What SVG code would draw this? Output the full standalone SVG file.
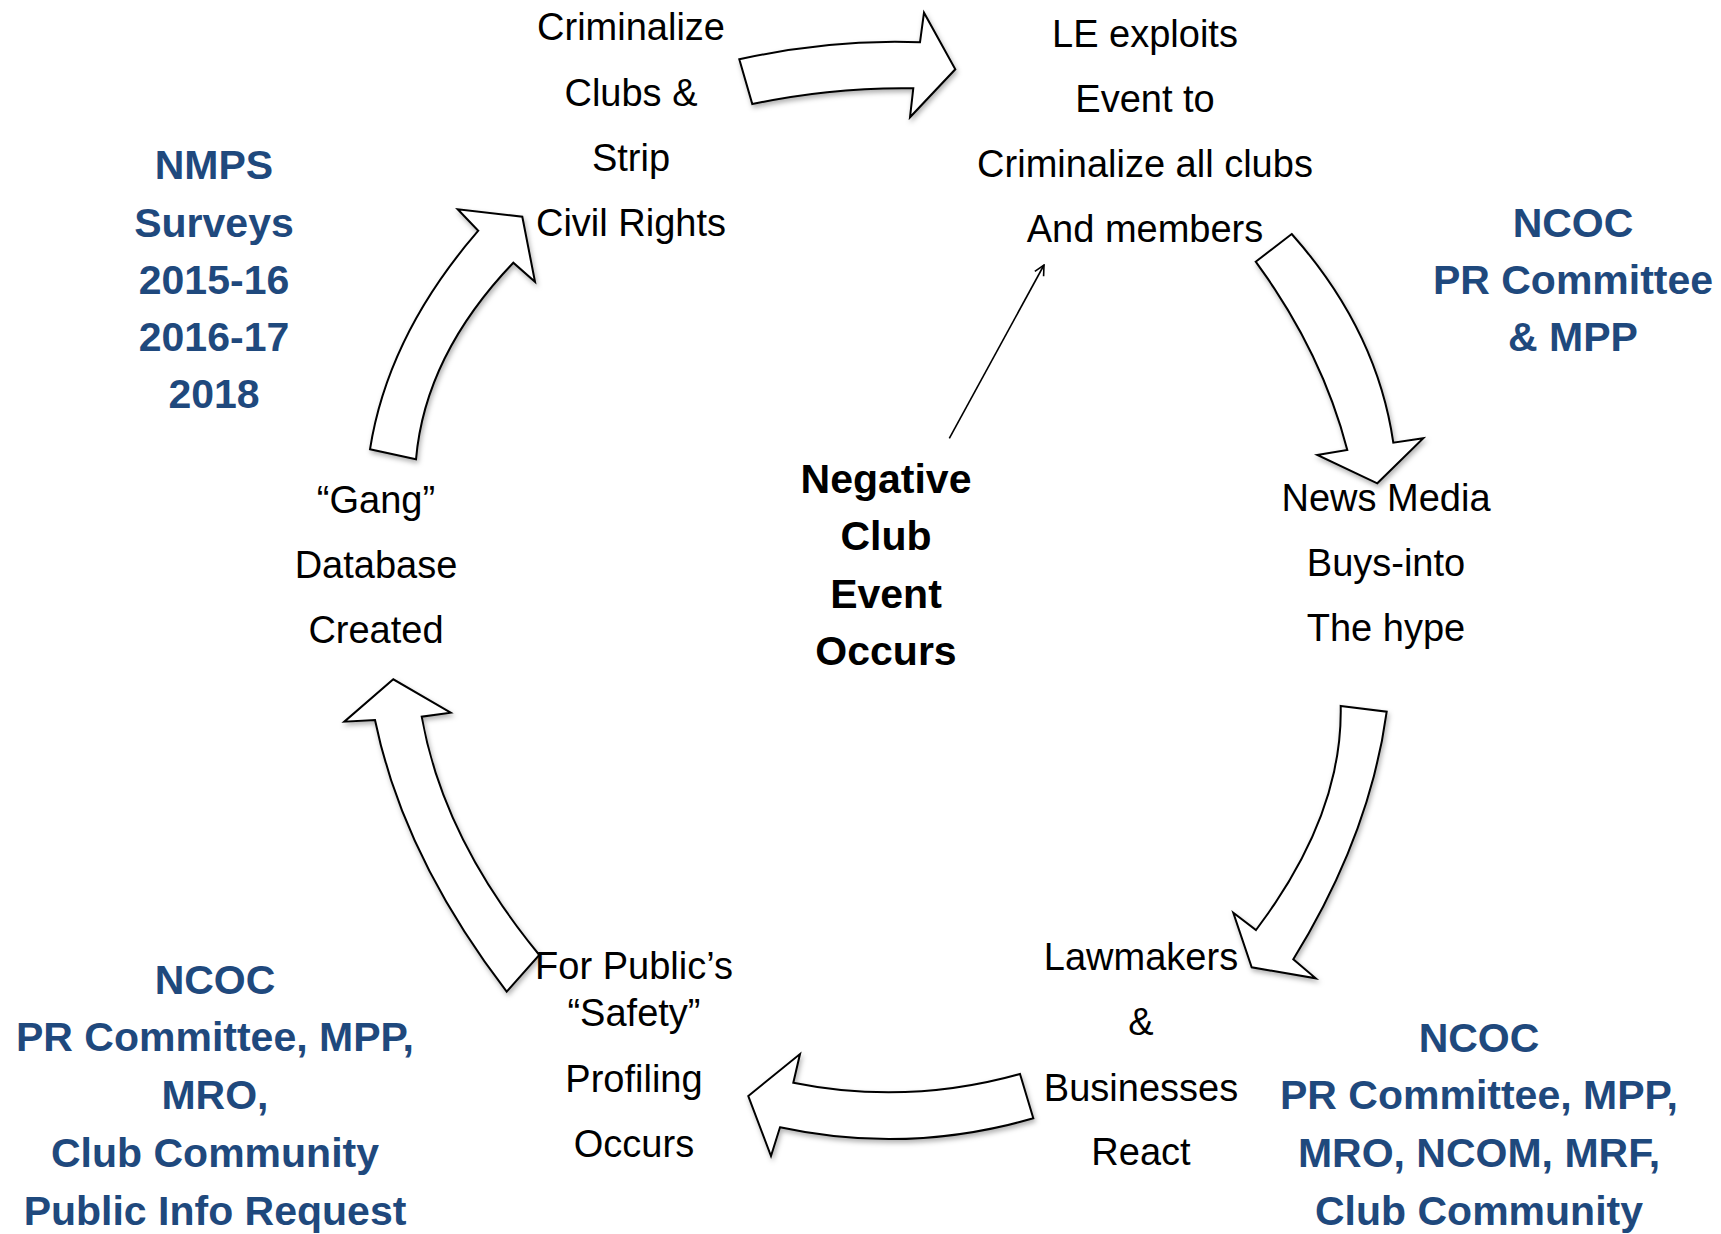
<svg xmlns="http://www.w3.org/2000/svg" width="1721" height="1234" viewBox="0 0 1721 1234">
<style>
  .lbl { font-family: "Liberation Sans", Arial, sans-serif; font-size: 38px; fill: #000; text-anchor: middle; }
  .ctr { font-family: "Liberation Sans", Arial, sans-serif; font-size: 41px; font-weight: bold; fill: #000; text-anchor: middle; }
  .blue { font-family: "Liberation Sans", Arial, sans-serif; font-size: 41px; font-weight: bold; fill: #1F497D; text-anchor: middle; }
  .blk { fill: #fff; stroke: #000; stroke-width: 2; stroke-linejoin: miter; filter: url(#sh); }
  .thin { fill: none; stroke: #000; stroke-width: 1.6; }
</style>
<defs>
  <filter id="sh" x="-20%" y="-20%" width="140%" height="140%">
    <feDropShadow dx="1.5" dy="3" stdDeviation="2.5" flood-color="#000" flood-opacity="0.3"/>
  </filter>
  <marker id="open" viewBox="0 0 12 12" refX="11" refY="6" markerWidth="12" markerHeight="12" markerUnits="userSpaceOnUse" orient="auto">
    <path d="M1,1 L11,6 L1,11" fill="none" stroke="#000" stroke-width="1.6"/>
  </marker>
</defs>
<rect width="1721" height="1234" fill="#fff"/>

<g id="connectors">
  <path id="arrow-top" class="blk" d="M739.3,59.3 Q830,39 920,42.3 L924,12.7 L955.3,69.3 L910,117.3 L913.3,88.3 Q833,87 752.3,104 Z"/>
  <path id="arrow-topright" class="blk" d="M1255.7,261.7 L1291.7,234 Q1377,330 1393.3,442.7 L1423.3,438.3 L1377.3,483.3 L1317.3,455 L1347.3,450 Q1322,352 1255.7,261.7 Z"/>
  <path id="arrow-right" class="blk" d="M1340.7,706 L1386.7,711.7 Q1370,835 1293.3,959.3 L1315.7,978.3 L1251.7,967.3 L1233.3,912.7 L1256,930 Q1343,815 1340.7,706 Z"/>
  <path id="arrow-bottom" class="blk" d="M1020,1074 L1033.3,1118.3 Q906.7,1154.8 780,1127.3 L771,1156 L748.3,1096 L800,1054 L793.3,1082.7 Q906.7,1105.7 1020,1074 Z"/>
  <path id="arrow-left" class="blk" d="M506.7,991.7 L539.3,955 Q443,838 421.7,716.7 L450.7,712.7 L393.3,679.3 L344.3,721.7 L375,720 Q403,856 506.7,991.7 Z"/>
  <path id="arrow-topleft" class="blk" d="M370,449.3 L416,459.3 Q425,355 513.3,262.7 L535,281.7 L522.3,216.7 L457.7,209.3 L478.3,230.7 Q388,335 370,449.3 Z"/>
  <line id="arrow-event" class="thin" x1="949.3" y1="438.3" x2="1044" y2="265" marker-end="url(#open)"/>
</g>

<g id="node-criminalize">
  <text class="lbl" x="631" y="40">Criminalize</text>
  <text class="lbl" x="631" y="106">Clubs &amp;</text>
  <text class="lbl" x="631" y="171">Strip</text>
  <text class="lbl" x="631" y="236">Civil Rights</text>
</g>

<g id="node-le-exploits">
  <text class="lbl" x="1145" y="47">LE exploits</text>
  <text class="lbl" x="1145" y="112">Event to</text>
  <text class="lbl" x="1145" y="177">Criminalize all clubs</text>
  <text class="lbl" x="1145" y="242">And members</text>
</g>

<g id="node-news-media">
  <text class="lbl" x="1386" y="511">News Media</text>
  <text class="lbl" x="1386" y="576">Buys-into</text>
  <text class="lbl" x="1386" y="641">The hype</text>
</g>

<g id="node-lawmakers">
  <text class="lbl" x="1141" y="970">Lawmakers</text>
  <text class="lbl" x="1141" y="1035">&amp;</text>
  <text class="lbl" x="1141" y="1101">Businesses</text>
  <text class="lbl" x="1141" y="1165">React</text>
</g>

<g id="node-profiling">
  <text class="lbl" x="634" y="979">For Public’s</text>
  <text class="lbl" x="634" y="1026">“Safety”</text>
  <text class="lbl" x="634" y="1092">Profiling</text>
  <text class="lbl" x="634" y="1157">Occurs</text>
</g>

<g id="node-gang-database">
  <text class="lbl" x="376" y="513">“Gang”</text>
  <text class="lbl" x="376" y="578">Database</text>
  <text class="lbl" x="376" y="643">Created</text>
</g>

<g id="node-negative-event">
  <text class="ctr" x="886" y="493">Negative</text>
  <text class="ctr" x="886" y="550">Club</text>
  <text class="ctr" x="886" y="608">Event</text>
  <text class="ctr" x="886" y="665">Occurs</text>
</g>

<g id="note-nmps">
  <text class="blue" x="214" y="179">NMPS</text>
  <text class="blue" x="214" y="237">Surveys</text>
  <text class="blue" x="214" y="294">2015-16</text>
  <text class="blue" x="214" y="351">2016-17</text>
  <text class="blue" x="214" y="408">2018</text>
</g>

<g id="note-ncoc-topright">
  <text class="blue" x="1573" y="237">NCOC</text>
  <text class="blue" x="1573" y="294">PR Committee</text>
  <text class="blue" x="1573" y="351">&amp; MPP</text>
</g>

<g id="note-ncoc-bottomleft">
  <text class="blue" x="215" y="994">NCOC</text>
  <text class="blue" x="215" y="1051">PR Committee, MPP,</text>
  <text class="blue" x="215" y="1109">MRO,</text>
  <text class="blue" x="215" y="1167">Club Community</text>
  <text class="blue" x="215" y="1225">Public Info Request</text>
</g>

<g id="note-ncoc-bottomright">
  <text class="blue" x="1479" y="1052">NCOC</text>
  <text class="blue" x="1479" y="1109">PR Committee, MPP,</text>
  <text class="blue" x="1479" y="1167">MRO, NCOM, MRF,</text>
  <text class="blue" x="1479" y="1225">Club Community</text>
</g>
</svg>
